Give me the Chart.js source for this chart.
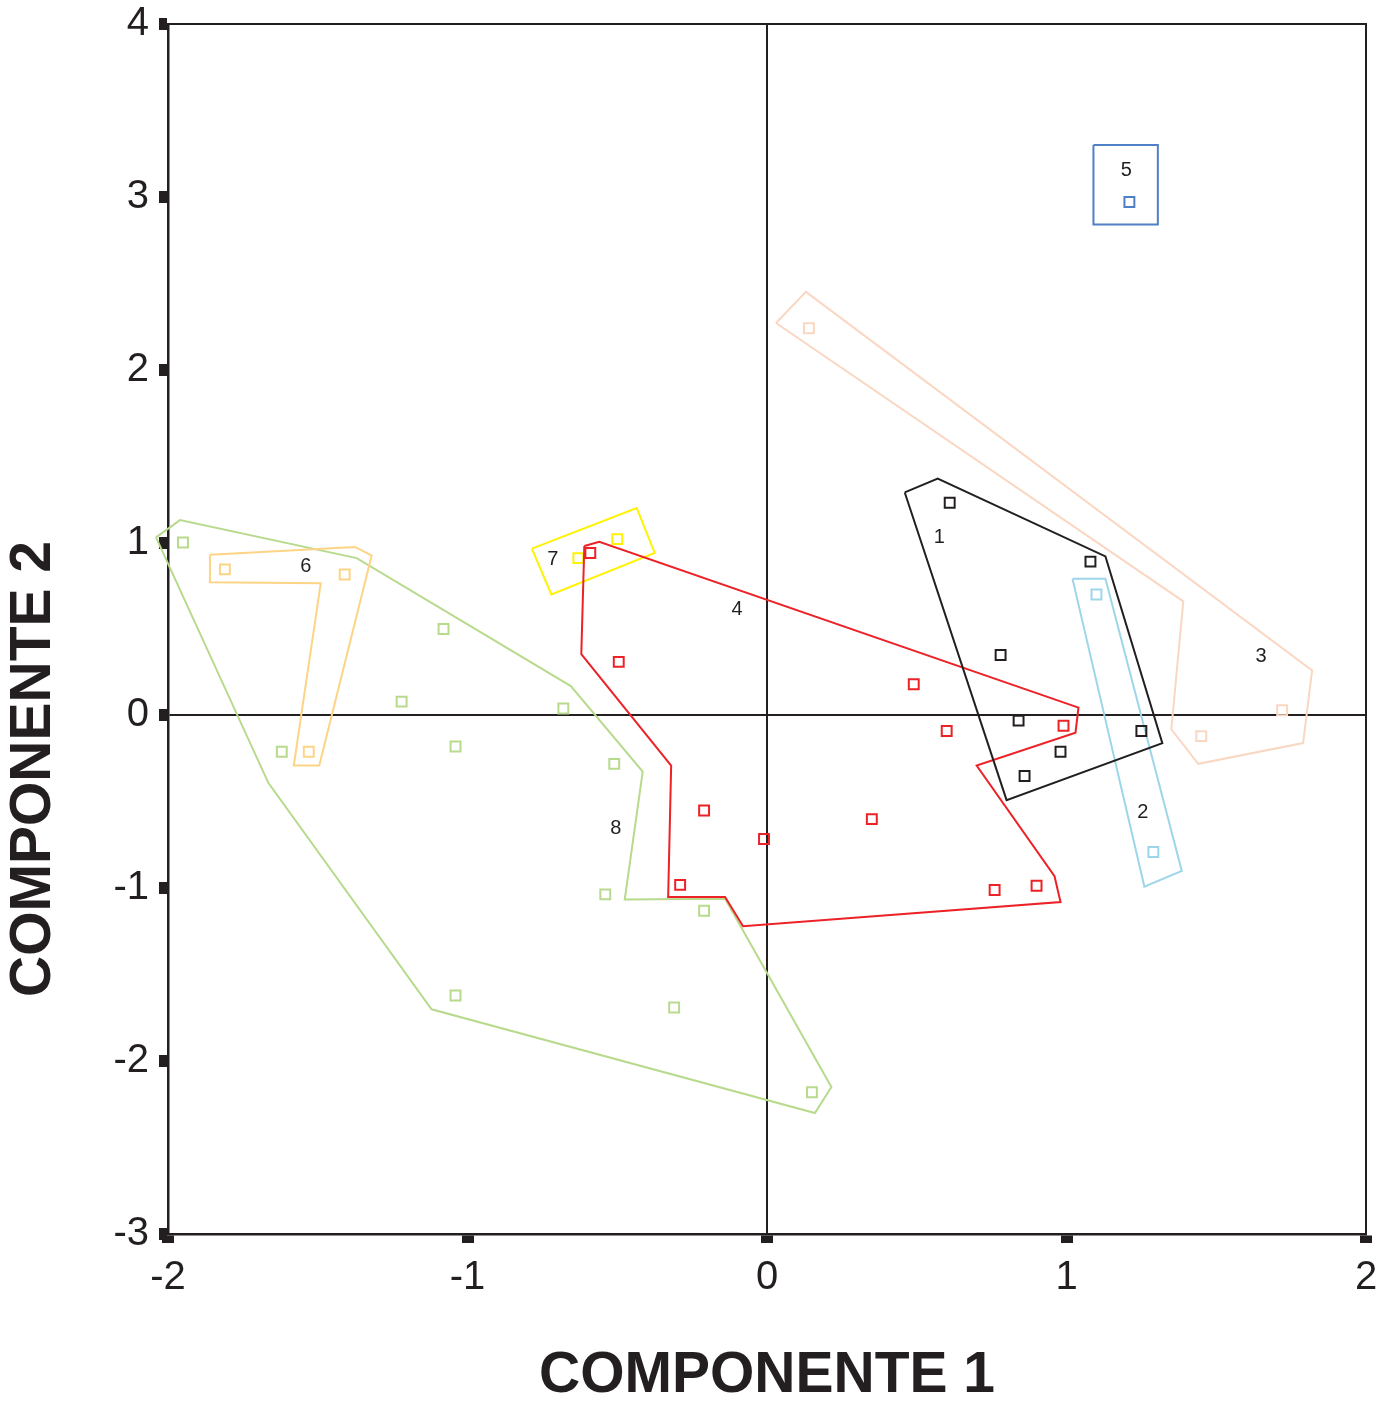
<!DOCTYPE html>
<html>
<head>
<meta charset="utf-8">
<script src="https://cdn.jsdelivr.net/npm/chart.js@4.4.1/dist/chart.umd.min.js"></script>
<style>
  html, body { margin: 0; padding: 0; background: #fff; }
  canvas { display: block; }
</style>
</head>
<body>
<canvas id="chart" width="1394" height="1410"></canvas>
<script>
const ink = '#231f20'
const family = '"Liberation Sans", Arial, Helvetica, sans-serif'

// casos por conglomerado: [componente 1, componente 2]
const puntos1 = [[0.61, 1.23], [1.08, 0.89], [0.78, 0.35], [0.84, -0.03], [1.25, -0.09], [0.98, -0.21], [0.86, -0.35]]
const puntos2 = [[1.10, 0.70], [1.29, -0.79]]
const puntos3 = [[0.14, 2.24], [1.45, -0.12], [1.72, 0.03]]
const puntos4 = [[-0.59, 0.94], [-0.495, 0.31], [0.49, 0.18], [0.60, -0.09], [0.99, -0.06], [-0.21, -0.55], [-0.01, -0.715], [0.35, -0.60], [-0.29, -0.98], [0.76, -1.01], [0.90, -0.985]]
const puntos5 = [[1.21, 2.97]]
const puntos6 = [[-1.81, 0.845], [-1.41, 0.815], [-1.53, -0.21]]
const puntos7 = [[-0.63, 0.91], [-0.50, 1.02]]
const puntos8 = [[-1.95, 1.00], [-1.08, 0.50], [-1.22, 0.08], [-0.68, 0.04], [-1.04, -0.18], [-1.62, -0.21], [-0.51, -0.28], [-0.54, -1.035], [-0.21, -1.13], [-1.04, -1.62], [-0.31, -1.69], [0.15, -2.18]]

// contornos dibujados alrededor de cada conglomerado
const contorno1 = [[0.46, 1.29], [0.57, 1.37], [1.13, 0.92], [1.32, -0.16], [0.80, -0.49]]
const contorno2 = [[1.02, 0.79], [1.13, 0.79], [1.385, -0.90], [1.26, -0.99]]
const contorno3 = [[0.03, 2.27], [0.13, 2.45], [1.82, 0.26], [1.79, -0.16], [1.44, -0.28], [1.35, -0.08], [1.39, 0.66]]
const contorno4 = [[-0.61, 0.98], [-0.56, 1.005], [1.04, 0.045], [1.03, -0.10], [0.70, -0.29], [0.96, -0.93], [0.98, -1.08], [-0.08, -1.22], [-0.14, -1.05], [-0.33, -1.05], [-0.32, -0.29], [-0.62, 0.355]]
const contorno5 = [[1.09, 3.30], [1.305, 3.30], [1.305, 2.84], [1.09, 2.84]]
const contorno6 = [[-1.86, 0.93], [-1.375, 0.975], [-1.32, 0.925], [-1.495, -0.29], [-1.58, -0.29], [-1.49, 0.765], [-1.86, 0.77]]
const contorno7 = [[-0.785, 0.965], [-0.435, 1.20], [-0.375, 0.94], [-0.72, 0.70]]
const contorno8 = [[-2.04, 1.03], [-1.96, 1.13], [-1.37, 0.91], [-0.655, 0.17], [-0.415, -0.325], [-0.475, -1.065], [-0.14, -1.06], [0.215, -2.15], [0.16, -2.30], [-1.12, -1.70], [-1.665, -0.39]]

// numero de cada conglomerado y donde va escrito
const etiquetas = ['1', '2', '3', '4', '5', '6', '7', '8']
const etiquetaX = [0.575, 1.255, 1.65, -0.10, 1.20, -1.54, -0.715, -0.505]
const etiquetaY = [1.03, -0.56, 0.34, 0.615, 3.15, 0.86, 0.905, -0.655]

const colores = ['#231f20', '#9dd6ea', '#fad7c2', '#ec2227', '#4f7fc6', '#fdd486', '#fff200', '#b8da8d']

const toXY = pts => pts.map(([x, y]) => ({ x, y }))
const cerrado = pts => toXY(pts.concat([pts[0]]))

const puntos = [puntos1, puntos2, puntos3, puntos4, puntos5, puntos6, puntos7, puntos8]
const contornos = [contorno1, contorno2, contorno3, contorno4, contorno5, contorno6, contorno7, contorno8]

const datasets = []
contornos.forEach((c, i) => {
  datasets.push({
    label: 'contorno ' + etiquetas[i],
    data: cerrado(c),
    showLine: true,
    borderColor: colores[i],
    borderWidth: 2,
    pointRadius: 0,
    fill: false,
    tension: 0,
    clip: false
  })
  datasets.push({
    label: 'grupo ' + etiquetas[i],
    data: toXY(puntos[i]),
    pointStyle: 'rect',
    pointRadius: 7,
    pointBorderWidth: 2,
    borderColor: colores[i],
    backgroundColor: 'rgba(0,0,0,0)'
  })
})

const numeros = {
  id: 'numeros',
  afterDatasetsDraw (chart) {
    const { ctx, scales: { x, y } } = chart
    ctx.save()
    ctx.font = '20px ' + family
    ctx.fillStyle = ink
    ctx.textAlign = 'center'
    ctx.textBaseline = 'middle'
    etiquetas.forEach((t, i) => {
      ctx.fillText(t, x.getPixelForValue(etiquetaX[i]), y.getPixelForValue(etiquetaY[i]))
    })
    ctx.restore()
  }
}

const marco = {
  id: 'marco',
  afterDatasetsDraw (chart) {
    const { ctx, chartArea: a } = chart
    ctx.save()
    ctx.strokeStyle = ink
    ctx.lineWidth = 2
    ctx.beginPath()
    ctx.moveTo(a.left, a.top)
    ctx.lineTo(a.right, a.top)
    ctx.lineTo(a.right, a.bottom)
    ctx.stroke()
    ctx.restore()
  }
}

const tituloY = {
  id: 'tituloY',
  afterDraw (chart) {
    const { ctx, chartArea: a } = chart
    ctx.save()
    ctx.translate(34, a.top + 745)
    ctx.rotate(-Math.PI / 2)
    ctx.font = 'bold 57px ' + family
    ctx.fillStyle = ink
    ctx.textAlign = 'center'
    ctx.textBaseline = 'middle'
    ctx.fillText('COMPONENTE 2', 0, 0)
    ctx.restore()
  }
}

const grid = {
  drawOnChartArea: true,
  color: c => (c.tick && c.tick.value === 0 ? ink : 'rgba(0,0,0,0)'),
  lineWidth: 2,
  tickColor: ink,
  tickLength: 9,
  tickWidth: 12
}

new Chart(document.getElementById('chart'), {
  type: 'scatter',
  data: { datasets },
  options: {
    responsive: false,
    animation: false,
    layout: { padding: { top: 24, right: 28, left: 0, bottom: 0 } },
    plugins: { legend: { display: false }, tooltip: { enabled: false } },
    scales: {
      x: {
        type: 'linear',
        min: -2,
        max: 2,
        afterFit: s => { s.height = 176 },
        ticks: { stepSize: 1, color: ink, padding: 11, font: { family, size: 40 } },
        grid,
        border: { display: true, color: ink, width: 2.5 },
        title: { display: true, text: 'COMPONENTE 1', color: ink, padding: 0, font: { family, size: 57, weight: 'bold' } }
      },
      y: {
        type: 'linear',
        min: -3,
        max: 4,
        afterFit: s => {
          s.width = 168
          s.paddingTop = 0
          s.paddingBottom = 0
        },
        ticks: { stepSize: 1, color: ink, padding: 10, font: { family, size: 40 } },
        grid,
        border: { display: true, color: ink, width: 2.5 }
      }
    }
  },
  plugins: [numeros, marco, tituloY]
})
</script>
</body>
</html>
